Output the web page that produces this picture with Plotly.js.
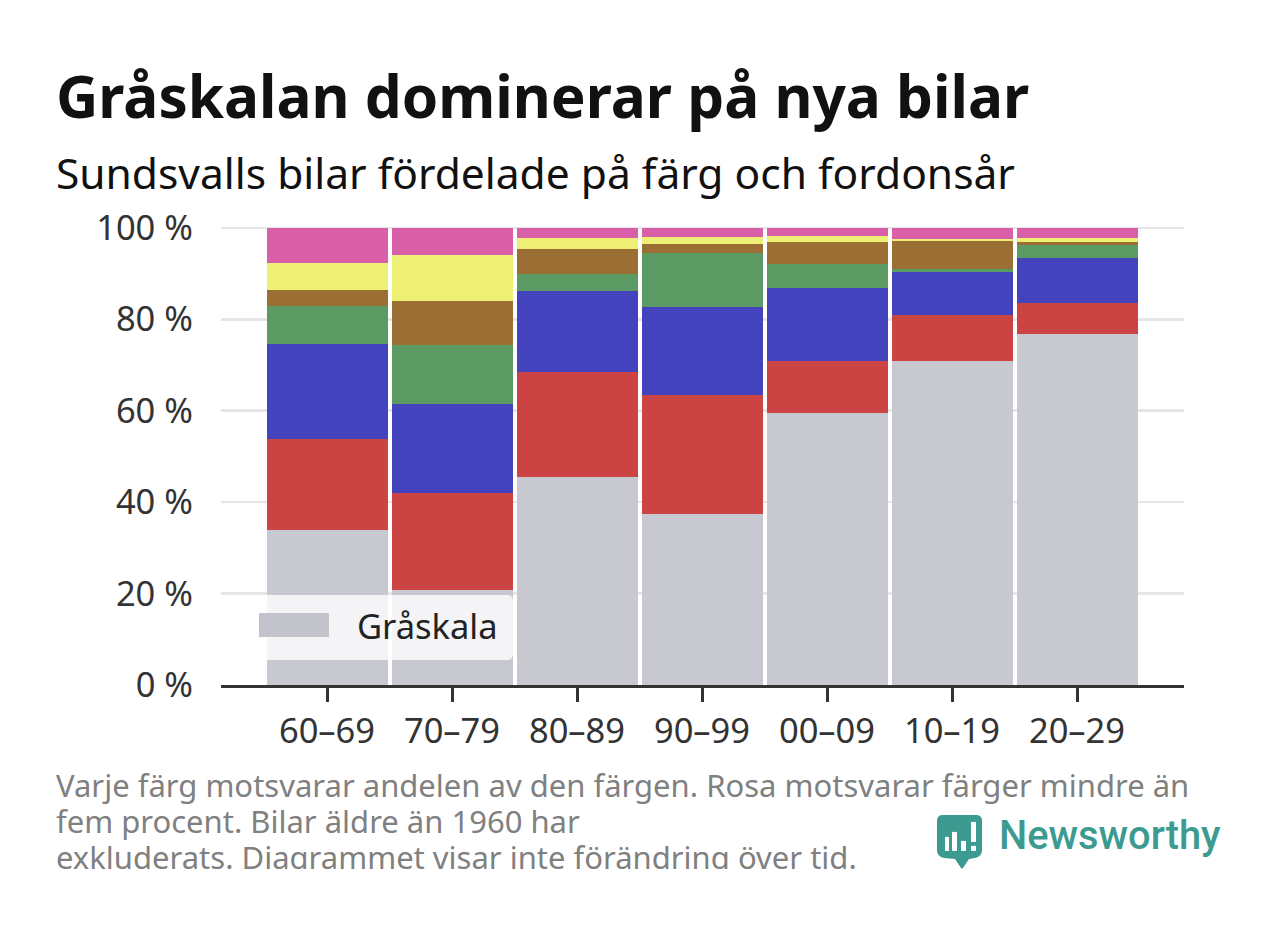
<!DOCTYPE html>
<html><head><meta charset="utf-8">
<script src="https://cdn.plot.ly/plotly-3.0.1.min.js"></script>
<style>html,body{margin:0;padding:0;background:#fff;overflow:hidden}#c{width:1280px;height:925px;position:relative}#clip{position:absolute;left:0;top:869px;width:900px;height:40px;background:#fff;pointer-events:none}</style>
</head><body><div id="c"></div><div id="clip"></div>
<script>
const categories = ['60–69','70–79','80–89','90–99','00–09','10–19','20–29'];
const gray   = [33.9,20.7,45.6,37.3,59.4,70.8,76.7];
const red    = [19.9,21.3,22.8,26.2,11.4,10.1,6.9];
const blue   = [20.8,19.5,17.7,19.2,16.0,9.4,9.7];
const green  = [8.4,12.9,3.7,11.7,5.3,0.7,3.0];
const brown  = [3.4,9.6,5.5,2.0,4.7,6.1,0.7];
const yellow = [6.0,10.1,2.5,1.7,1.5,0.4,0.7];
const pink   = [7.6,5.9,2.2,1.9,1.7,2.5,2.3];
const yTicks = [0,20,40,60,80,100];
const yTickLabels = ['0 %','20 %','40 %','60 %','80 %','100 %'];
const seriesNames = ['Gråskala','Röd','Blå','Grön','Brun','Gul','Övriga'];
const seriesColors = ['#c8c8d0','#cb4343','#4343bd','#5c9a63','#9b6e33','#edf074','#d95fa9'];
const seriesValues = [gray,red,blue,green,brown,yellow,pink];
const W=1280,H=925;
const FONT='"Noto Sans", sans-serif';
const L=221,R=96,T=225.7,B=240;
const px=(x)=>(x-L)/(W-L-R), py=(y)=>(H-B-y)/(H-T-B);
function P(s){return s.replace(/(-?[\d.]+),(-?[\d.]+)/g,(m,a,b)=>px(+a).toFixed(5)+','+py(+b).toFixed(5));}
function shp(path,fill){return {type:'path',xref:'paper',yref:'paper',path:P(path),fillcolor:fill,line:{width:0},layer:'above'};}
const traces=seriesValues.map((v,i)=>({type:'bar',x:categories,y:v,name:seriesNames[i],marker:{color:seriesColors[i],line:{width:0}},hoverinfo:'name+y'}));
const ann=(text,x,y,size,color,extra)=>Object.assign({text,xref:'paper',yref:'paper',x:px(x),y:py(y),xanchor:'left',yanchor:'middle',showarrow:false,align:'left',font:{family:FONT,size,color}},extra||{});
const layout={
 width:W,height:H,barmode:'stack',bargap:0.032,showlegend:false,
 paper_bgcolor:'#fff',plot_bgcolor:'#fff',
 margin:{l:L,r:R,t:T,b:B,pad:0},
 font:{family:FONT,color:'#333'},
 xaxis:{type:'category',range:[-0.848,6.856],showgrid:false,showline:true,linecolor:'#333',linewidth:3,ticks:'outside',ticklen:14,tickwidth:3,tickcolor:'#333',tickfont:{family:FONT,size:34.5,color:'#333'},ticklabelstandoff:0,zeroline:false},
 yaxis:{range:[0,100.4],tickmode:'array',tickvals:yTicks,ticktext:yTickLabels,showgrid:true,gridcolor:'#e6e6e6',gridwidth:2.5,showline:false,zeroline:false,ticks:'',tickfont:{family:FONT,size:34.5,color:'#333'},ticklabelstandoff:27},
 shapes:[
  shp('M256,595 L507,595 Q513,595 513,601 L513,654 Q513,660 507,660 L256,660 Q250,660 250,654 L250,601 Q250,595 256,595 Z','rgba(255,255,255,0.8)'),
  shp('M259,613 L329,613 L329,637 L259,637 Z','#c3c3cb'),
  shp('M943,815 L976,815 Q982,815 982,821 L982,850 Q982,857 975,858 L969,859 L963,868 Q962,869 961,868 L955,859 L944,858 Q937,857 937,850 L937,821 Q937,815 943,815 Z','#3d9a90'),
  shp('M945,837 L949,837 L949,851 L945,851 Z','#fff'),
  shp('M952,832 L957,832 L957,851 L952,851 Z','#fff'),
  shp('M961,841 L966,841 L966,851 L961,851 Z','#fff'),
  shp('M971,822 L976,822 L976,842 L971,842 Z','#fff'),
  shp('M971,846 L976,846 L976,851 L971,851 Z','#fff')
 ],
 annotations:[
  ann('<b>Gråskalan dominerar på nya bilar</b>',54,95,58.5,'#111'),
  ann('Sundsvalls bilar fördelade på färg och fordonsår',54,172,42.5,'#111'),
  ann('Gråskala',355,625,34.5,'#222'),
  ann('Varje färg motsvarar andelen av den färgen. Rosa motsvarar färger mindre än',54,785,31,'#808080'),
  ann('fem procent. Bilar äldre än 1960 har',54,821,31,'#808080'),
  ann('exkluderats. Diagrammet visar inte förändring över tid.',54,857,31,'#808080'),
  ann('Newsworthy',997,836,39.8,'#3d9a90',{font:{family:'Roboto, sans-serif',size:39.8,color:'#3d9a90',weight:500}})
 ]
};
Plotly.newPlot('c',traces,layout,{displayModeBar:false,staticPlot:true});
</script></body></html>
